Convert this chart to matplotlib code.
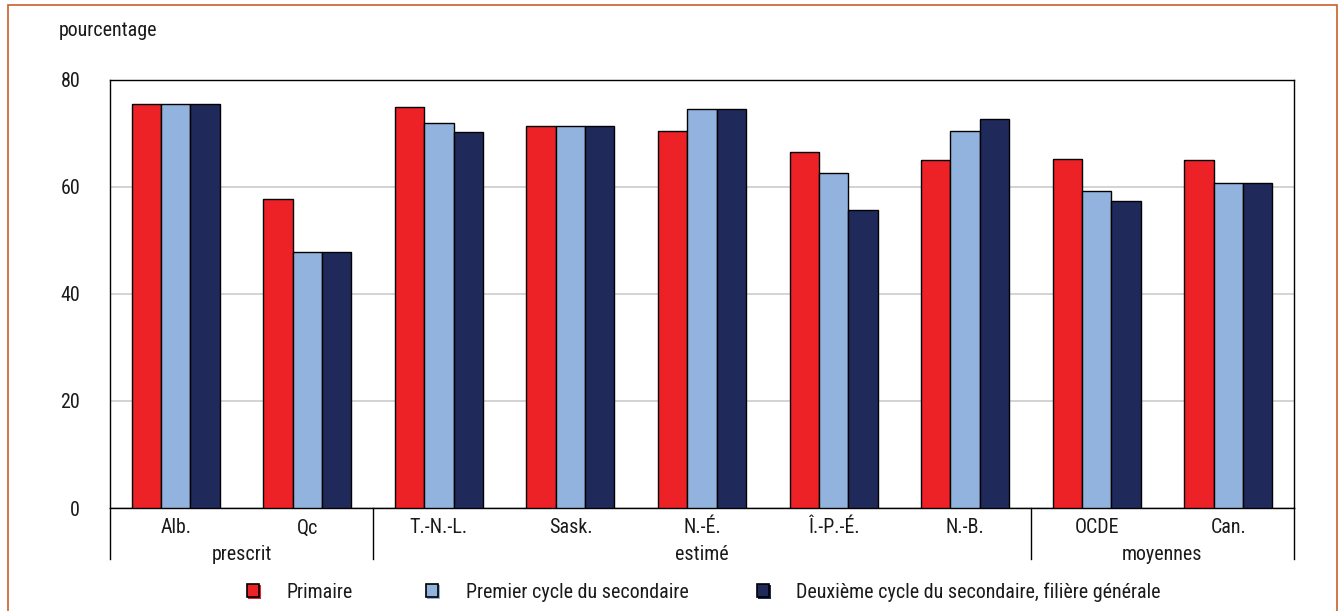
import matplotlib
matplotlib.use("Agg")
import matplotlib.pyplot as plt
from matplotlib.patches import Rectangle
from matplotlib.lines import Line2D
import numpy as np

plt.rcParams['font.family'] = ['Roboto Condensed', 'Archivo Narrow', 'Liberation Sans', 'DejaVu Sans']

categories = ["Alb.", "Qc", "T.-N.-L.", "Sask.", "N.-É.", "Î.-P.-É.", "N.-B.", "OCDE", "Can."]
groups = [("prescrit", 0, 1), ("estimé", 2, 6), ("moyennes", 7, 8)]
series_names = ["Primaire", "Premier cycle du secondaire",
                "Deuxième cycle du secondaire, filière générale"]
primaire = [75.6, 57.7, 75.0, 71.4, 70.4, 66.6, 65.1, 65.3, 65.1]
premier = [75.6, 47.9, 71.9, 71.4, 74.6, 62.7, 70.4, 59.3, 60.7]
deuxieme = [75.6, 47.9, 70.3, 71.4, 74.6, 55.7, 72.7, 57.4, 60.7]
colors = ["#EC2227", "#92B3DE", "#1F2A5B"]
yticks = [0, 20, 40, 60, 80]

FS = 14.4
fig = plt.figure(figsize=(13.41, 6.11), dpi=100)
W, H = 1341, 611
ax = fig.add_axes([110 / W, 1 - 508 / H, (1294 - 110) / W, (508 - 80) / H])

x = np.arange(len(categories))
bw = 0.223
for i, (vals, c) in enumerate(zip([primaire, premier, deuxieme], colors)):
    ax.bar(x + (i - 1) * bw, vals, bw, color=c, edgecolor="black", linewidth=1.0, zorder=3)

ax.set_xlim(-0.5, 8.5)
ax.set_ylim(0, 80)
ax.set_yticks(yticks)
ax.set_yticklabels([str(v) for v in yticks], fontsize=FS, color="#1a1a1a")
ax.tick_params(axis="y", length=0, pad=21.5)
ax.set_xticks([])
ax.grid(axis="y", color="#CCCCCC", linewidth=1.2, zorder=0)
for s in ax.spines.values():
    s.set_color("black")
    s.set_linewidth(1.0)

# category and group labels
for xi, lab in zip(x, categories):
    ax.text(xi, -3.7, lab, ha="center", va="center", fontsize=FS, color="#1a1a1a", clip_on=False)
for name, a, b in groups:
    ax.text((a + b) / 2, -8.6, name, ha="center", va="center", fontsize=FS, color="#1a1a1a", clip_on=False)
for sep in [-0.5, 1.5, 6.5, 8.5]:
    ax.add_line(Line2D([sep, sep], [0, -9.5], color="black", linewidth=1.0, clip_on=False))

fig.text(59 / W, 1 - 36 / H, "pourcentage", fontsize=FS, ha="left", va="baseline", color="#1a1a1a")

# legend
leg_items = [(247, 286), (426, 466), (757, 796)]
for (mx, tx), c, name in zip(leg_items, colors, series_names):
    fig.patches.append(Rectangle(((mx + 1) / W, 1 - 599 / H), 13 / W, 14 / H,
                                 transform=fig.transFigure, facecolor=c, edgecolor="none"))
    fig.patches.append(Rectangle((mx / W, 1 - 597 / H), 12 / W, 13 / H,
                                 transform=fig.transFigure, facecolor=c, edgecolor="black", linewidth=1.2))
    fig.text(tx / W, 1 - 592 / H, name, fontsize=FS, ha="left", va="center", color="#1a1a1a")

# outer border
fig.patches.append(Rectangle((8 / W, -0.05), (1337 - 8) / W, 1 - 5 / H + 0.05,
                             transform=fig.transFigure, facecolor="none",
                             edgecolor="#C8602A", linewidth=1.2))

fig.savefig("out.png", dpi=100)
